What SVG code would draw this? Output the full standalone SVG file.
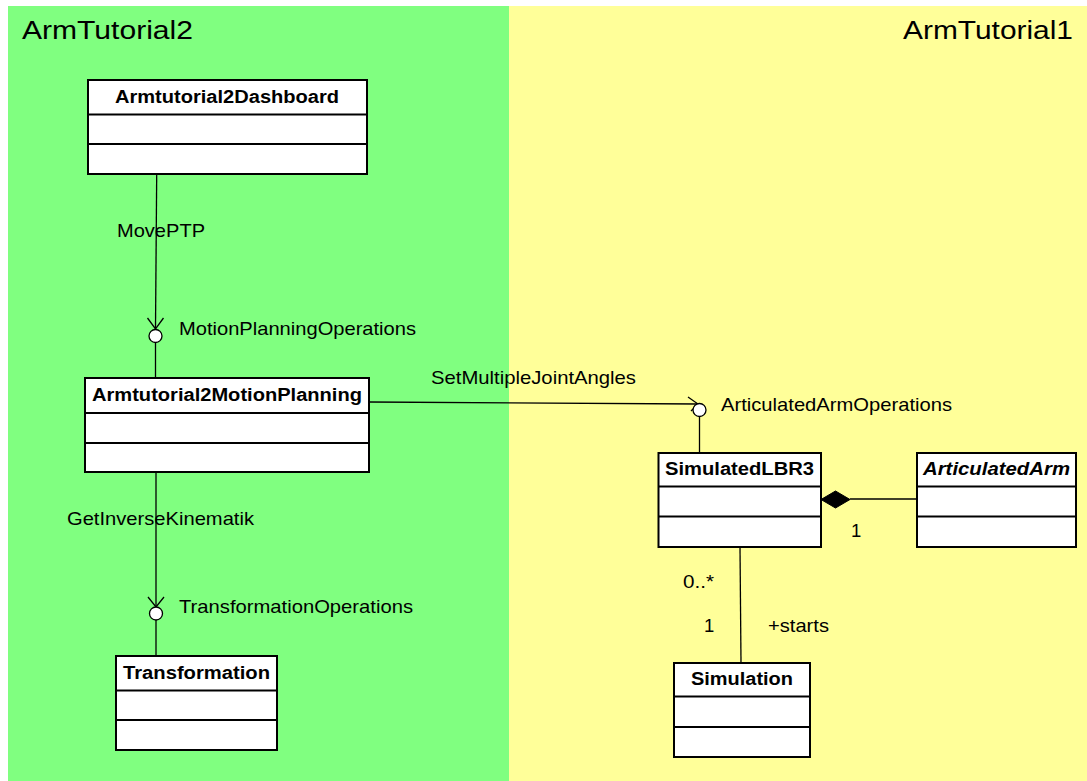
<svg xmlns="http://www.w3.org/2000/svg" width="1087" height="781" viewBox="0 0 1087 781">
  <style>
    .pkgtitle { font-family: "Liberation Sans", Arial, sans-serif; font-size: 25px; fill: #000; }
    .cname { font-family: "Liberation Sans", Arial, sans-serif; font-size: 17.5px; font-weight: bold; fill: #000; }
    .cname-i { font-style: italic; }
    .lbl { font-family: "Liberation Sans", Arial, sans-serif; font-size: 18.5px; fill: #000; }
    .box { fill: #fff; stroke: #000; stroke-width: 2; }
    .div { stroke: #000; stroke-width: 2; }
    .edge { fill: none; stroke: #000; stroke-width: 1.3; }
    .iface { fill: #fff; stroke: #000; stroke-width: 1.3; }
  </style>
  <rect x="0" y="0" width="1087" height="781" fill="#fff"/>

  <g id="pkg-ArmTutorial2">
    <rect x="8" y="6" width="501" height="775" fill="#80FF80"/>
    <text class="pkgtitle" x="22" y="39" textLength="171" lengthAdjust="spacingAndGlyphs">ArmTutorial2</text>
  </g>
  <g id="pkg-ArmTutorial1">
    <rect x="509" y="6" width="578" height="775" fill="#FFFF99"/>
    <text class="pkgtitle" x="903" y="39" textLength="170" lengthAdjust="spacingAndGlyphs">ArmTutorial1</text>
  </g>

  <g id="connectors">
    <!-- Dashboard -> MotionPlanningOperations -->
    <line class="edge" x1="156.7" y1="174" x2="155.5" y2="329"/>
    <polyline class="edge" points="147.5,318 155.5,329 163.5,318"/>
    <line class="edge" x1="155.5" y1="342" x2="155.5" y2="378"/>
    <circle class="iface" cx="155.5" cy="336" r="6.5"/>

    <!-- MotionPlanning -> ArticulatedArmOperations -->
    <line class="edge" x1="369" y1="402" x2="698" y2="404"/>
    <polyline class="edge" points="688,397 698,404 691,411"/>
    <line class="edge" x1="699.5" y1="416.5" x2="699.5" y2="453"/>
    <circle class="iface" cx="699.5" cy="410" r="6.5"/>

    <!-- MotionPlanning -> TransformationOperations -->
    <line class="edge" x1="156" y1="472" x2="156" y2="607"/>
    <polyline class="edge" points="148,597 156,607 164,597"/>
    <line class="edge" x1="156" y1="620" x2="156" y2="656"/>
    <circle class="iface" cx="156" cy="613.5" r="6.5"/>

    <!-- Composition SimulatedLBR3 <>- ArticulatedArm -->
    <line class="edge" x1="850" y1="499" x2="917" y2="499"/>
    <polygon points="821,499.5 835.5,491 850,499.5 835.5,508" fill="#000" stroke="#000" stroke-width="1"/>

    <!-- SimulatedLBR3 - Simulation -->
    <line class="edge" x1="740" y1="547" x2="741" y2="663"/>

    <text class="lbl" x="117" y="237" textLength="88" lengthAdjust="spacingAndGlyphs">MovePTP</text>
    <text class="lbl" x="179" y="335" textLength="237" lengthAdjust="spacingAndGlyphs">MotionPlanningOperations</text>
    <text class="lbl" x="431" y="384" textLength="205" lengthAdjust="spacingAndGlyphs">SetMultipleJointAngles</text>
    <text class="lbl" x="721" y="411" textLength="231" lengthAdjust="spacingAndGlyphs">ArticulatedArmOperations</text>
    <text class="lbl" x="67" y="525" textLength="187" lengthAdjust="spacingAndGlyphs">GetInverseKinematik</text>
    <text class="lbl" x="179" y="613" textLength="234" lengthAdjust="spacingAndGlyphs">TransformationOperations</text>
    <text class="lbl" x="851" y="537">1</text>
    <text class="lbl" x="683" y="588" textLength="31" lengthAdjust="spacingAndGlyphs">0..*</text>
    <text class="lbl" x="704" y="632">1</text>
    <text class="lbl" x="768" y="632" textLength="61" lengthAdjust="spacingAndGlyphs">+starts</text>
  </g>

  <g id="Armtutorial2Dashboard">
    <rect class="box" x="88" y="80" width="279" height="94"/>
    <line class="div" x1="88" y1="114.5" x2="367" y2="114.5"/>
    <line class="div" x1="88" y1="144" x2="367" y2="144"/>
    <text class="cname" x="115" y="103" textLength="224" lengthAdjust="spacingAndGlyphs">Armtutorial2Dashboard</text>
  </g>

  <g id="Armtutorial2MotionPlanning">
    <rect class="box" x="85" y="378" width="284" height="94"/>
    <line class="div" x1="85" y1="413" x2="369" y2="413"/>
    <line class="div" x1="85" y1="443" x2="369" y2="443"/>
    <text class="cname" x="92" y="401" textLength="270" lengthAdjust="spacingAndGlyphs">Armtutorial2MotionPlanning</text>
  </g>

  <g id="Transformation">
    <rect class="box" x="116" y="656" width="161" height="94"/>
    <line class="div" x1="116" y1="690.5" x2="277" y2="690.5"/>
    <line class="div" x1="116" y1="720" x2="277" y2="720"/>
    <text class="cname" x="123" y="679" textLength="147" lengthAdjust="spacingAndGlyphs">Transformation</text>
  </g>

  <g id="SimulatedLBR3">
    <rect class="box" x="658.5" y="453" width="162.5" height="94"/>
    <line class="div" x1="658.5" y1="486.5" x2="821" y2="486.5"/>
    <line class="div" x1="658.5" y1="516.5" x2="821" y2="516.5"/>
    <text class="cname" x="665" y="475" textLength="149" lengthAdjust="spacingAndGlyphs">SimulatedLBR3</text>
  </g>

  <g id="ArticulatedArm">
    <rect class="box" x="917" y="453" width="159" height="94"/>
    <line class="div" x1="917" y1="486.5" x2="1076" y2="486.5"/>
    <line class="div" x1="917" y1="516.5" x2="1076" y2="516.5"/>
    <text class="cname cname-i" x="923" y="475" textLength="147" lengthAdjust="spacingAndGlyphs">ArticulatedArm</text>
  </g>

  <g id="Simulation">
    <rect class="box" x="674" y="663" width="136" height="94"/>
    <line class="div" x1="674" y1="696.5" x2="810" y2="696.5"/>
    <line class="div" x1="674" y1="727" x2="810" y2="727"/>
    <text class="cname" x="691" y="685" textLength="102" lengthAdjust="spacingAndGlyphs">Simulation</text>
  </g>
</svg>
